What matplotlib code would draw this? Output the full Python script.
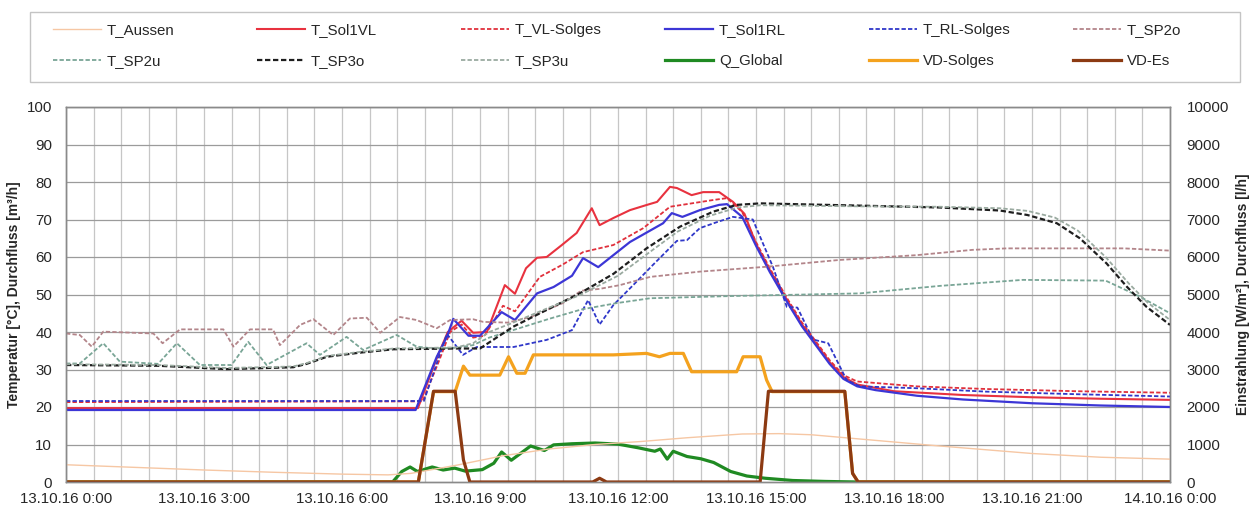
import matplotlib
matplotlib.use("Agg")
import matplotlib.pyplot as plt
from matplotlib.patches import Rectangle
import numpy as np

plt.rcParams['font.family'] = ['Liberation Sans', 'DejaVu Sans']

# ---- data (time in hours since 13.10.16 0:00) ----
t_aussen = [0, 1.5, 3, 4.5, 6, 7.0, 7.5, 8.5, 9.5, 10.5, 11.5, 12.5, 13.5, 14.7, 15.5, 16.2, 18.9, 21, 22.5, 24]
v_aussen = [4.6, 3.9, 3.2, 2.6, 2.1, 1.9, 2.3, 4.5, 7.0, 8.8, 10.0, 10.8, 11.8, 12.8, 12.9, 12.6, 9.7, 7.6, 6.6, 6.1]

t_sol1vl = [0, 7.65, 8.06, 8.3, 8.6, 8.85, 9.15, 9.54, 9.76, 10.0, 10.24, 10.45, 10.78, 11.1, 11.43, 11.6, 11.9,
            12.26, 12.63, 12.85, 13.13, 13.28, 13.6, 13.85, 14.2, 14.5, 14.75, 15.0, 15.3, 15.7, 16.0, 16.3,
            16.6, 16.9, 17.2, 18.0, 19.5, 21.0, 22.5, 24]
v_sol1vl = [19.7, 19.7, 33, 40, 43, 39.8, 40, 52.5, 50.2, 57, 59.8, 60, 63.2, 66.4, 73, 68.5, 70.4,
            72.5, 73.9, 74.7, 78.7, 78.4, 76.5, 77.3, 77.3, 74.7, 71.5, 63.5, 56.5, 48, 42, 37,
            32, 28, 26, 24.2, 23.2, 22.6, 22.2, 21.9]

t_vl_solges = [0, 7.75, 8.1, 8.35, 8.6, 8.85, 9.1, 9.5, 9.76, 10.3, 10.8, 11.24, 11.9, 12.55, 13.13, 13.6,
               14.07, 14.37, 14.7, 15.0, 15.3, 15.7, 16.0, 16.3, 16.6, 16.9, 17.2, 18.5, 20, 22, 24]
v_vl_solges = [21.3, 21.5, 32, 40, 42, 38.5, 39, 47, 45.5, 54.7, 58, 61.3, 63.2, 67.7, 73.4, 74.3,
               75.2, 75.7, 72, 64, 57, 48.5, 42.5, 37.5, 32.5, 28.5, 26.8, 25.5, 24.8, 24.2, 23.8]

t_sol1rl = [0, 7.6, 8.06, 8.28, 8.42, 8.75, 9.0, 9.47, 9.76, 10.24, 10.6, 11.0, 11.24, 11.57, 12.26, 12.98,
            13.17, 13.4, 13.78, 14.2, 14.37, 14.7, 15.0, 15.3, 15.7, 16.0, 16.3, 16.6, 16.9, 17.2, 17.6,
            18.5, 19.5, 21.0, 22.5, 24.0]
v_sol1rl = [19.2, 19.2, 33.4, 38.7, 43.5, 39, 39, 45.3, 43.2, 50.3, 52, 55, 59.7, 57.3, 64, 69,
            71.7, 70.7, 72.5, 73.9, 74.1, 70.7, 63, 56, 47.5, 41.5, 36.5, 31.5, 27.5, 25.5, 24.5,
            23, 22, 21, 20.4, 20]

t_rl_solges = [0, 7.78, 8.28, 8.63, 8.93, 9.73, 10.45, 11.0, 11.35, 11.6, 11.9, 12.33, 12.76, 13.28, 13.5,
               13.78, 14.15, 14.5, 14.93, 15.37, 15.67, 15.9, 16.24, 16.57, 16.97, 17.26, 18.5, 20, 22, 24]
v_rl_solges = [21.6, 21.6, 39.5, 33.9, 36, 36, 37.9, 40.5, 48.5, 42, 47.2, 52.5, 57.9, 64.3, 64.5,
               67.7, 69.3, 70.7, 70, 57.3, 46.7, 46.5, 38, 37, 27.2, 25.5, 25, 24.1, 23.4, 22.8]

t_sp2o = [0, 0.3, 0.56, 0.81, 1.9, 2.1, 2.48, 3.42, 3.64, 4.0, 4.5, 4.65, 5.09, 5.38, 5.81, 6.17, 6.54,
          6.83, 7.26, 7.62, 8.06, 8.35, 8.85, 9.07, 9.6, 10.1, 10.8, 11.2, 11.6, 12.04, 12.7, 13.78,
          15.23, 16.8, 18.5, 19.7, 20.45, 21.9, 23.0, 24]
v_sp2o = [39.6, 39.2, 36.1, 40.1, 39.6, 37, 40.7, 40.7, 36.1, 40.7, 40.7, 36.5, 41.9, 43.4, 39.2, 43.6, 43.8,
          39.8, 44, 43.2, 41, 43.2, 43.4, 42.7, 42.5, 44, 47.7, 51, 51.5, 52.5, 54.7, 56.1,
          57.4, 59.2, 60.5, 61.9, 62.3, 62.3, 62.3, 61.7]

t_sp2u = [0, 0.3, 0.81, 1.17, 2.0, 2.41, 2.91, 3.6, 3.96, 4.36, 5.23, 5.52, 6.1, 6.46, 7.19, 7.62, 8.0,
          8.5, 8.85, 9.2, 9.72, 10.5, 11.2, 11.97, 12.7, 14.5, 17.26, 19.0, 20.8, 22.6, 23.35, 24]
v_sp2u = [31.6, 31.6, 37, 32.1, 31.5, 37, 31.2, 31.2, 37.4, 31.2, 37, 33.9, 38.7, 35.2, 39.2, 36.1, 35.6,
          35.8, 36.5, 38.5, 40.5, 43.5, 46, 47.7, 49, 49.6, 50.3, 52.3, 53.9, 53.7, 49.4, 45]

t_sp3o = [0, 2.0, 3.49, 4.94, 5.23, 5.67, 6.39, 7.12, 8.49, 9.0, 9.72, 10.45, 11.17, 11.9, 12.62, 13.35,
          14.07, 14.58, 15.1, 17.26, 19.0, 20.3, 20.9, 21.54, 22.04, 22.62, 23.06, 23.49, 24]
v_sp3o = [31.2, 31.0, 30.1, 30.6, 31.5, 33.4, 34.5, 35.4, 35.6, 35.6, 41.4, 45.9, 50.3, 55.5, 62.3, 68.1,
          72.1, 73.9, 74.3, 73.7, 73.2, 72.4, 71.2, 69, 65, 58.3, 52.1, 46.7, 41.9]

t_sp3u = [0, 2.0, 3.49, 4.94, 5.23, 5.67, 6.39, 7.12, 8.49, 8.85, 9.2, 9.72, 10.5, 11.2, 12.0, 12.6, 13.3,
          14.0, 14.6, 15.1, 17.3, 19.0, 20.3, 20.9, 21.5, 22.0, 22.6, 23.1, 23.5, 24]
v_sp3u = [31.4, 31.2, 30.4, 30.8, 31.7, 33.6, 34.7, 35.6, 35.9, 37, 40, 42.5, 46.5, 50, 55, 60.5, 66.8,
          71, 73.2, 73.8, 73.5, 73.4, 73.0, 72.3, 70.5, 67, 60, 53, 48, 43.2]

# irradiance in W/m2 (right axis)
t_qglobal = [0, 7.1, 7.3, 7.48, 7.64, 7.96, 8.2, 8.45, 8.68, 9.05, 9.3, 9.47, 9.68, 10.1, 10.4, 10.6, 11.0,
             11.5, 12.0, 12.45, 12.8, 12.92, 13.07, 13.2, 13.5, 13.8, 14.08, 14.45, 14.8, 15.2, 15.8, 16.5,
             17.2, 24]
v_qglobal = [0, 0, 280, 400, 280, 400, 320, 370, 290, 330, 500, 800, 580, 960, 840, 990, 1020,
             1040, 1010, 910, 820, 880, 610, 820, 680, 620, 520, 280, 160, 100, 40, 15,
             0, 0]

# flow of the solar circuit in l/h (right axis)
t_vd_solges = [0, 7.66, 7.99, 8.46, 8.64, 8.78, 9.43, 9.62, 9.8, 9.98, 10.16, 11.9, 12.62, 12.9, 13.13,
               13.42, 13.6, 14.58, 14.72, 15.09, 15.23, 15.35, 16.93, 17.1, 17.22, 24]
v_vd_solges = [0, 0, 2410, 2410, 3090, 2850, 2850, 3340, 2900, 2900, 3390, 3390, 3430, 3340, 3430,
               3430, 2940, 2940, 3340, 3340, 2720, 2410, 2410, 230, 0, 0]

# flow in m3/h (left axis)
t_vd_es = [0, 7.66, 7.99, 8.46, 8.64, 8.78, 11.45, 11.6, 11.75, 15.09, 15.27, 16.93, 17.1, 17.22, 24]
v_vd_es = [0, 0, 24.2, 24.2, 5.9, 0, 0, 1.0, 0, 0, 24.2, 24.2, 2.3, 0, 0]

tick_hours = [0, 3, 6, 9, 12, 15, 18, 21, 24]
tick_labels = ["13.10.16 0:00", "13.10.16 3:00", "13.10.16 6:00", "13.10.16 9:00", "13.10.16 12:00",
               "13.10.16 15:00", "13.10.16 18:00", "13.10.16 21:00", "14.10.16 0:00"]

# ---- figure ----
W, H = 1254, 508
fig = plt.figure(figsize=(W / 100, H / 100), dpi=100)
fig.patch.set_facecolor('white')

x0, x1, y0, y1 = 66, 1170, 107, 482
ax1 = fig.add_axes([x0 / W, 1 - y1 / H, (x1 - x0) / W, (y1 - y0) / H])
ax2 = ax1.twinx()

# right axis sits underneath and carries the background + grid
ax2.set_zorder(1)
ax1.set_zorder(2)
ax1.patch.set_visible(False)
ax2.patch.set_visible(True)
ax2.patch.set_facecolor('white')

ax1.set_xlim(0, 24)
ax1.set_ylim(0, 100)
ax2.set_ylim(0, 10000)

# grid
for xv in np.arange(0, 24.001, 0.6):
    ax2.axvline(xv, color='#c6c6c6', lw=0.9, zorder=0)
for yv in np.arange(1000, 10001, 1000):
    ax2.axhline(yv, color='#9b9b9b', lw=0.9, zorder=0)

dash = (0, (2.4, 1.2))
fs = 10.8
txtc = '#262626'

lines = []
lines += ax1.plot(t_aussen, v_aussen, color='#f6c7a4', lw=1.0, label='T_Aussen')
lines += ax1.plot(t_sol1vl, v_sol1vl, color='#e8323f', lw=1.5, label='T_Sol1VL')
lines += ax1.plot(t_vl_solges, v_vl_solges, color='#e0303c', lw=1.3, ls=dash, label='T_VL-Solges')
lines += ax1.plot(t_sol1rl, v_sol1rl, color='#3c36d6', lw=1.6, label='T_Sol1RL')
lines += ax1.plot(t_rl_solges, v_rl_solges, color='#2f37c9', lw=1.3, ls=dash, label='T_RL-Solges')
lines += ax1.plot(t_sp2o, v_sp2o, color='#b3858a', lw=1.3, ls=dash, label='T_SP2o')
lines += ax1.plot(t_sp2u, v_sp2u, color='#79a596', lw=1.3, ls=dash, label='T_SP2u')
lines += ax1.plot(t_sp3o, v_sp3o, color='#1e1e1e', lw=1.6, ls=dash, label='T_SP3o')
lines += ax1.plot(t_sp3u, v_sp3u, color='#9aaaa0', lw=1.3, ls=dash, label='T_SP3u')
lq = ax2.plot(t_qglobal, v_qglobal, color='#1f8a22', lw=2.3, label='Q_Global')
lv = ax2.plot(t_vd_solges, v_vd_solges, color='#f4a21e', lw=2.3, label='VD-Solges')
le = ax1.plot(t_vd_es, v_vd_es, color='#8c3a12', lw=2.3, label='VD-Es')
lines += lq + lv + le

# ticks
ax1.set_xticks(tick_hours)
ax1.set_xticklabels(tick_labels)
ax1.set_yticks(np.arange(0, 101, 10))
ax2.set_yticks(np.arange(0, 10001, 1000))
ax1.tick_params(axis='x', length=0, pad=7, labelsize=fs, labelcolor=txtc)
ax1.tick_params(axis='y', length=0, pad=10, labelsize=fs, labelcolor=txtc)
ax2.tick_params(axis='y', length=0, pad=12, labelsize=fs, labelcolor=txtc)

for ax in (ax1, ax2):
    for s in ax.spines.values():
        s.set_color('#8a8a8a')
        s.set_linewidth(1.0)

ax1.set_ylabel('Temperatur [°C], Durchfluss [m³/h]', fontsize=10, fontweight='bold', color=txtc, labelpad=4)
ax2.set_ylabel('Einstrahlung [W/m²], Durchfluss [l/h]', fontsize=10, fontweight='bold', color=txtc, labelpad=5)

# legend: boxed, six evenly spaced columns of two entries
fig.patches.append(Rectangle((30 / W, 1 - 82 / H), (1240 - 30) / W, 70 / H, transform=fig.transFigure,
                             fill=False, edgecolor='#c4c4c4', lw=1.0))
col_x = [53, 257, 461, 665, 869, 1073]
for i, cx in enumerate(col_x):
    hs = [lines[i], lines[i + 6]]
    fig.legend(handles=hs, loc='center left', bbox_to_anchor=(cx / W, 1 - 45.5 / H),
               frameon=False, borderpad=0, borderaxespad=0, handlelength=3.2, handletextpad=0.4,
               labelspacing=1.15, fontsize=fs, labelcolor=txtc)

fig.savefig('out.png', dpi=100)
